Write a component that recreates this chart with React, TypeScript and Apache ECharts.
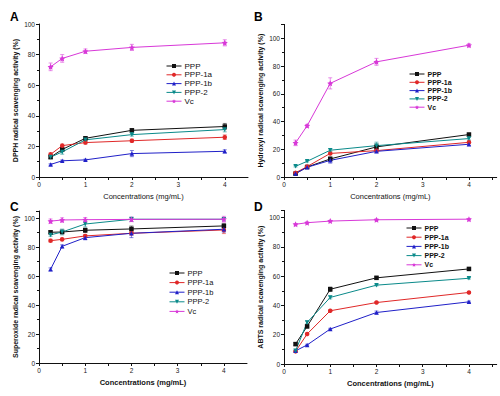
import React, { useEffect, useRef } from "react";
import * as echarts from "echarts";

// Concentrations (mg/mL)
const conc = [0.25, 0.5, 1, 2, 4];
const names = ["PPP", "PPP-1a", "PPP-1b", "PPP-2", "Vc"];
const colors = ["#111111", "#e02828", "#2020c8", "#0a8a8a", "#d838d8"];

// A: DPPH radical scavenging activity (%)
const dpphPPP = [13, 18, 25.3, 30.5, 33];
const dpph1a = [14.8, 20.5, 22.5, 23.7, 26];
const dpph1b = [8.2, 10.6, 11.2, 15.3, 16.8];
const dpph2 = [13, 16.4, 24.3, 27.7, 31];
const dpphVc = [72, 77.5, 82.2, 84.7, 87.7];
const dpphErr = [
  [1, 1, 1, 1, 2],
  [1, 1, 1, 1, 1.5],
  [0.5, 0.5, 0.5, 2, 1],
  [1, 1.5, 1, 1, 1.5],
  [2.5, 2.5, 1.5, 2, 2],
];

// B: Hydroxyl radical scavenging activity (%)
const hydPPP = [2.4, 7.2, 13, 21.7, 30.6];
const hyd1a = [3, 7.5, 17, 19, 25];
const hyd1b = [2.5, 7, 12, 18.5, 23.6];
const hyd2 = [7.7, 11.3, 19.3, 22.6, 27.7];
const hydVc = [24.6, 36.9, 67.5, 83, 95];
const hydErr = [
  [0.5, 1, 1.5, 2, 1],
  [0.5, 1, 1, 1, 1],
  [0.5, 0.5, 2, 1, 1],
  [0.5, 0.5, 1, 2.5, 1],
  [2, 1, 4, 2.5, 1],
];

// C: Superoxide radical scavenging activity (%)
const supPPP = [90.3, 90.5, 91.7, 92.6, 94.7];
const sup1a = [84.5, 85.4, 87.8, 89.6, 91.9];
const sup1b = [64.7, 80.6, 86.6, 89.6, 92.4];
const sup2 = [88.5, 90.5, 96, 99.3, 99.3];
const supVc = [98, 98.8, 99, 99.2, 99.3];
const supErr = [
  [1, 1, 1.5, 2, 1.5],
  [1, 1, 1, 1, 2.5],
  [1, 1, 1.5, 3, 2],
  [1, 2, 2, 1.5, 1],
  [1.5, 1.5, 1.5, 1.5, 2],
];

// D: ABTS radical scavenging activity (%)
const abtsPPP = [13.6, 25.7, 51.1, 58.9, 65];
const abts1a = [8.6, 20.5, 36.4, 42, 48.9];
const abts1b = [9, 13, 23.9, 35.2, 42.5];
const abts2 = [9, 28.4, 45.5, 53.9, 58.6];
const abtsVc = [95.5, 96.6, 97.7, 98.6, 99];
const abtsErr = [
  [1, 1, 1.5, 1, 0.5],
  [0.5, 0.5, 0.5, 0.5, 0.5],
  [0.5, 0.5, 0.5, 1, 0.5],
  [0.5, 1, 1, 0.5, 0.5],
  [0.5, 0.5, 0.5, 0.5, 0.5],
];

const yNames = [
  "DPPH radical scavenging activity (%)",
  "Hydroxyl radical scavenging activity (%)",
  "Superoxide radical scavenging activity (%)",
  "ABTS radical scavenging activity (%)",
];
const letters = ["A", "B", "C", "D"];
const xName = "Concentrations (mg/mL)";

const panels = [
  [dpphPPP, dpph1a, dpph1b, dpph2, dpphVc],
  [hydPPP, hyd1a, hyd1b, hyd2, hydVc],
  [supPPP, sup1a, sup1b, sup2, supVc],
  [abtsPPP, abts1a, abts1b, abts2, abtsVc],
];
const panelErr = [dpphErr, hydErr, supErr, abtsErr];

const FONT = "'Liberation Sans', Arial, sans-serif";
const STAR =
  "path://M0,-10 L2.9,-4 L9.5,-3.1 L4.7,1.5 L5.9,8.1 L0,5 L-5.9,8.1 L-4.7,1.5 L-9.5,-3.1 L-2.9,-4 Z";
const symbols = ["rect", "circle", "triangle", "triangle", STAR];
const symbolRot = [0, 0, 0, 180, 0];

export default function App() {
  const ref = useRef<HTMLDivElement>(null);
  useEffect(() => {
    if (!ref.current) return;
    const chart = echarts.init(ref.current, null, { renderer: "svg" });

    const grids = [
      { left: 39, top: 24, width: 209, height: 153 },
      { left: 284, top: 24.4, width: 212.7, height: 152.6 },
      { left: 39, top: 211, width: 208, height: 152 },
      { left: 284, top: 210.4, width: 212.7, height: 153.6 },
    ];
    const xMax = [4.5, 4.6, 4.5, 4.6];
    const yMax = [100, 110, 105, 105];
    const legendPos = [
      { left: 166, top: 62, gap: 0.8, bold: false, fs: 8 },
      { left: 409, top: 70, gap: 0.3, bold: true, fs: 7 },
      { left: 169, top: 269, gap: 1.6, bold: false, fs: 7.5 },
      { left: 406, top: 224, gap: 1.2, bold: true, fs: 7 },
    ];

    const xAxis = grids.map((_, i) => ({
      type: "value",
      gridIndex: i,
      min: 0,
      max: xMax[i],
      interval: 0.5,
      name: xName,
      nameLocation: "middle",
      nameGap: 15.5,
      nameTextStyle: { fontSize: 7.5, fontFamily: FONT, color: "#111", fontWeight: i >= 2 ? "bold" : "normal" },
      axisLine: { lineStyle: { color: "#111", width: 1 } },
      axisTick: { length: 3, lineStyle: { color: "#111" } },
      axisLabel: {
        fontSize: 6.5,
        fontFamily: FONT,
        color: "#222",
        margin: 4,
        showMaxLabel: false,
        formatter: (v: number) => (Math.abs(v - Math.round(v)) < 1e-6 ? String(Math.round(v)) : ""),
      },
      splitLine: { show: false },
    }));

    const yAxis = grids.map((_, i) => ({
      type: "value",
      gridIndex: i,
      min: 0,
      max: yMax[i],
      interval: 20,
      name: yNames[i],
      nameLocation: "middle",
      nameGap: 20,
      nameTextStyle: { fontSize: 7, fontFamily: FONT, color: "#111", fontWeight: "bold" },
      axisLine: { show: true, lineStyle: { color: "#111", width: 1 } },
      axisTick: { show: true, length: 3, lineStyle: { color: "#111" } },
      minorTick: { show: true, splitNumber: 2, length: 2, lineStyle: { color: "#111" } },
      axisLabel: {
        fontSize: 6.5,
        fontFamily: FONT,
        color: "#222",
        margin: 4,
        showMaxLabel: i === 0,
      },
      splitLine: { show: false },
    }));

    const series: any[] = [];
    panels.forEach((vals, p) => {
      vals.forEach((arr, s) => {
        series.push({
          type: "line",
          name: names[s],
          xAxisIndex: p,
          yAxisIndex: p,
          data: conc.map((c, k) => [c, arr[k]]),
          symbol: symbols[s],
          symbolRotate: symbolRot[s],
          symbolSize: s === 4 ? 6 : 4.5,
          showSymbol: true,
          lineStyle: { color: colors[s], width: 1 },
          itemStyle: { color: colors[s], borderWidth: 0 },
          z: 3,
        });
        const errs = panelErr[p][s];
        series.push({
          type: "custom",
          name: "err-" + p + "-" + s,
          xAxisIndex: p,
          yAxisIndex: p,
          data: conc.map((c, k) => [c, arr[k] - errs[k], arr[k] + errs[k]]),
          encode: { x: 0, y: [1, 2] },
          z: 2,
          renderItem: (_params: any, api: any) => {
            const x = api.value(0);
            const p1 = api.coord([x, api.value(2)]);
            const p2 = api.coord([x, api.value(1)]);
            const w = 2;
            const st = { stroke: colors[s], lineWidth: 0.7, opacity: 0.8 };
            return {
              type: "group",
              children: [
                { type: "line", shape: { x1: p1[0], y1: p1[1], x2: p2[0], y2: p2[1] }, style: st },
                { type: "line", shape: { x1: p1[0] - w, y1: p1[1], x2: p1[0] + w, y2: p1[1] }, style: st },
                { type: "line", shape: { x1: p2[0] - w, y1: p2[1], x2: p2[0] + w, y2: p2[1] }, style: st },
              ],
            };
          },
        });
      });
    });

    const legend = legendPos.map((l) => ({
      data: names,
      orient: "vertical",
      left: l.left,
      top: l.top,
      itemWidth: 15,
      itemHeight: 5,
      itemGap: l.gap,
      padding: 0,
      selectedMode: false,
      itemStyle: { borderWidth: 0 },
      lineStyle: { width: 1 },
      textStyle: {
        fontSize: l.fs,
        fontFamily: FONT,
        color: "#111",
        fontWeight: l.bold ? "bold" : "normal",
        lineHeight: 8,
        padding: [0, 0, 0, -2],
      },
    }));

    const letterPos = [
      [10, 11],
      [254, 11],
      [10, 201],
      [254, 201],
    ];

    chart.setOption({
      animation: false,
      backgroundColor: "#ffffff",
      grid: grids,
      xAxis,
      yAxis,
      legend,
      series,
      graphic: letters.map((t, i) => ({
        type: "text",
        left: letterPos[i][0],
        top: letterPos[i][1],
        style: { text: t, fontSize: 12, fontWeight: "bold", fontFamily: FONT, fill: "#000" },
      })),
    });
    return () => chart.dispose();
  }, []);
  return (
    <div
      ref={ref}
      style={{ position: "fixed", left: 0, top: 0, width: 500, height: 396, background: "#fff" }}
    />
  );
}
